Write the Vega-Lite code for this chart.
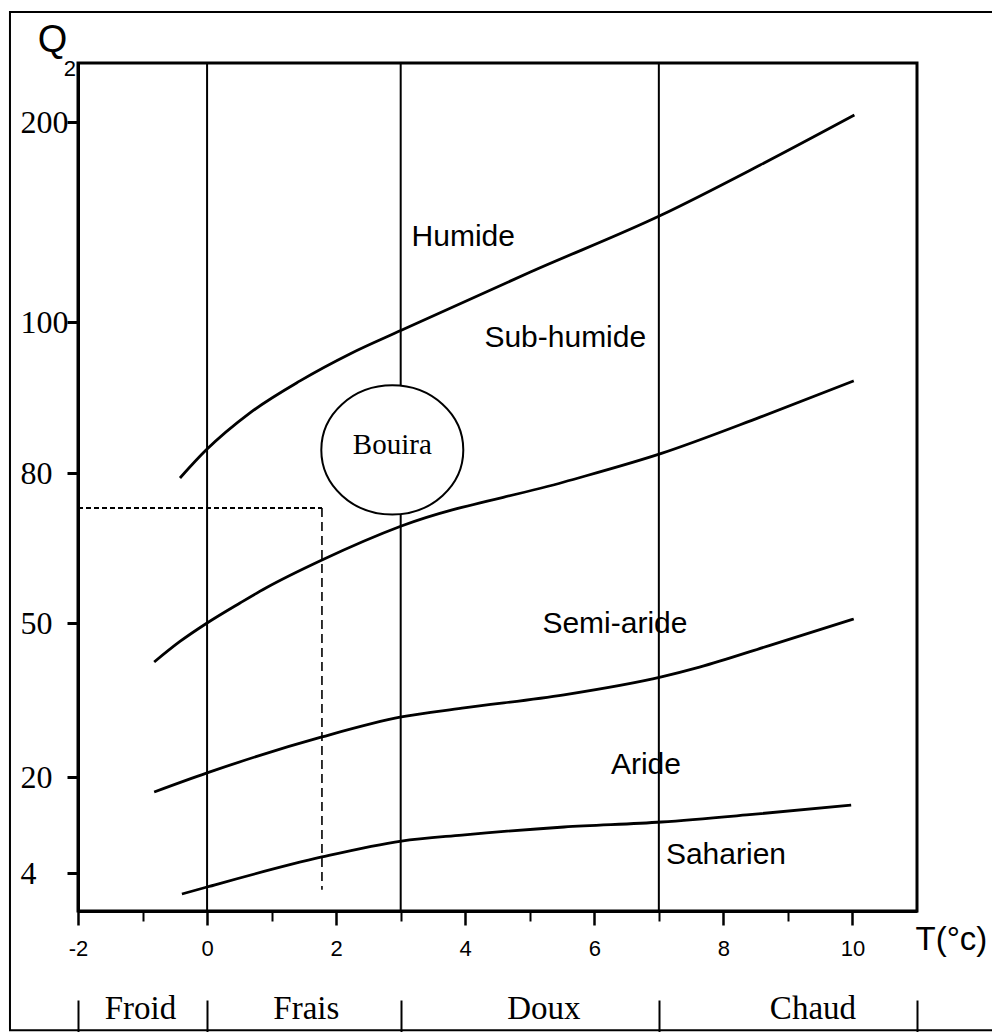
{
  "$schema": "https://vega.github.io/schema/vega-lite/v6.json",
  "autosize": "none",
  "width": 839,
  "height": 848,
  "padding": {"left": 78, "top": 63, "right": 75, "bottom": 121},
  "background": "white",
  "config": {
    "view": {"stroke": "black", "strokeWidth": 3},
    "axis": {"grid": false, "domainColor": "black", "tickColor": "black", "labelColor": "black", "titleColor": "black"}
  },
  "datasets": {
    "zones": [{"T": 0}, {"T": 3}, {"T": 7}],
    "curves": [
      {"curve": "c1", "T": -0.42, "Q": 79.0},
      {"curve": "c1", "T": -0.02, "Q": 83.0},
      {"curve": "c1", "T": 0.67, "Q": 88.0},
      {"curve": "c1", "T": 1.44, "Q": 92.2},
      {"curve": "c1", "T": 2.22, "Q": 95.8},
      {"curve": "c1", "T": 3.01, "Q": 98.9},
      {"curve": "c1", "T": 5.01, "Q": 125},
      {"curve": "c1", "T": 7.04, "Q": 153.5},
      {"curve": "c1", "T": 8.57, "Q": 178.5},
      {"curve": "c1", "T": 10.03, "Q": 203.5},
      {"curve": "c2", "T": -0.82, "Q": 42.4},
      {"curve": "c2", "T": -0.42, "Q": 46.4},
      {"curve": "c2", "T": 0.0, "Q": 50},
      {"curve": "c2", "T": 0.51, "Q": 54.0},
      {"curve": "c2", "T": 0.91, "Q": 57.0},
      {"curve": "c2", "T": 1.78, "Q": 62.6},
      {"curve": "c2", "T": 3.01, "Q": 69.4},
      {"curve": "c2", "T": 5.53, "Q": 78.2},
      {"curve": "c2", "T": 7.04, "Q": 82.6},
      {"curve": "c2", "T": 8.57, "Q": 87.4},
      {"curve": "c2", "T": 10.02, "Q": 92.2},
      {"curve": "c3", "T": -0.82, "Q": 17.5},
      {"curve": "c3", "T": 0.0, "Q": 20.8},
      {"curve": "c3", "T": 1.78, "Q": 27.8},
      {"curve": "c3", "T": 3.01, "Q": 31.7},
      {"curve": "c3", "T": 3.95, "Q": 33.4},
      {"curve": "c3", "T": 5.53, "Q": 36.0},
      {"curve": "c3", "T": 7.04, "Q": 39.5},
      {"curve": "c3", "T": 7.63, "Q": 41.4},
      {"curve": "c3", "T": 8.71, "Q": 45.6},
      {"curve": "c3", "T": 10.02, "Q": 50.8},
      {"curve": "c4", "T": -0.39, "Q": 0.5},
      {"curve": "c4", "T": 0.0, "Q": 1.67},
      {"curve": "c4", "T": 1.78, "Q": 6.67},
      {"curve": "c4", "T": 3.01, "Q": 9.33},
      {"curve": "c4", "T": 3.95, "Q": 10.33},
      {"curve": "c4", "T": 5.53, "Q": 11.67},
      {"curve": "c4", "T": 7.04, "Q": 12.5},
      {"curve": "c4", "T": 8.36, "Q": 13.67},
      {"curve": "c4", "T": 9.98, "Q": 15.33}
    ],
    "dotted": [{"T": -2, "Tend": 1.78, "Q": 73.0}],
    "dashed": [{"T": 1.78, "Q": 73.0, "Qend": 1.2}],
    "bouira": [{"T": 2.87, "Q": 83.05, "label": "Bouira"}],
    "regions": [
      {"T": 3.97, "Q": 142.5, "label": "Humide"},
      {"T": 5.55, "Q": 97.9, "label": "Sub-humide"},
      {"T": 6.32, "Q": 49.8, "label": "Semi-aride"},
      {"T": 6.80, "Q": 22.3, "label": "Aride"},
      {"T": 8.04, "Q": 7.0, "label": "Saharien"}
    ],
    "sub": [{"T": -2.124, "Q": 226.5, "label": "2"}],
    "frame": [{"T": -3.054, "Tend": 12.5, "Q": 255, "Qend": -22.2}]
  },
  "resolve": {"axis": {"x": "independent", "y": "independent"}},
  "layer": [
    {
      "data": {"name": "frame"},
      "mark": {"type": "rect", "fill": null, "fillOpacity": 0, "stroke": "black", "strokeWidth": 2, "clip": false},
      "encoding": {
        "x": {"field": "T", "type": "quantitative", "axis": null, "scale": {"domain": [-2, 11], "nice": false, "zero": false}},
        "x2": {"field": "Tend"},
        "y": {"field": "Q", "type": "quantitative", "axis": null, "scale": {"domain": [-2.33, 4, 20, 50, 80, 100, 200, 229.5], "range": [848, 810, 714, 560, 410, 259, 59, 0], "nice": false, "zero": false}},
        "y2": {"field": "Qend"}
      }
    },
    {
      "data": {"name": "zones"},
      "mark": {"type": "rule", "color": "black", "strokeWidth": 2},
      "encoding": {
        "x": {"field": "T", "type": "quantitative", "scale": {"domain": [-2, 11], "nice": false, "zero": false},
          "axis": {"orient": "bottom", "values": [-2, 0, 2, 4, 6, 8, 10], "tickSize": 14, "tickWidth": 2.5, "domainWidth": 3,
            "labelFont": "Liberation Sans", "labelFontSize": 22, "labelPadding": 13, "labelFlush": false, "labelOverlap": false,
            "labelExpr": "'' + datum.value",
            "title": "T(°c)", "titleFont": "Liberation Sans", "titleFontSize": 33, "titleFontWeight": "normal",
            "titleX": 837, "titleY": 28, "titleAlign": "left", "titleBaseline": "middle", "titleAnchor": null}}
      }
    },
    {
      "data": {"name": "curves"},
      "mark": {"type": "line", "color": "black", "strokeWidth": 2.8, "interpolate": "monotone"},
      "encoding": {
        "x": {"field": "T", "type": "quantitative", "scale": {"domain": [-2, 11], "nice": false, "zero": false},
          "axis": {"orient": "bottom", "values": [-1, 1, 3, 5, 7, 9], "tickSize": 10, "tickWidth": 2, "labels": false, "domain": false, "title": null}},
        "y": {"field": "Q", "type": "quantitative", "scale": {"domain": [-2.33, 4, 20, 50, 80, 100, 200, 229.5], "range": [848, 810, 714, 560, 410, 259, 59, 0], "nice": false, "zero": false},
          "axis": {"orient": "left", "values": [4, 20, 50, 80, 100, 200], "tickSize": 11, "tickWidth": 3, "domainWidth": 3,
            "labelFont": "Liberation Serif", "labelFontSize": 32, "labelAlign": "left", "labelPadding": 47, "labelBaseline": "middle", "labelOverlap": false, "labelFlush": false,
            "title": "Q", "titleFont": "Liberation Sans", "titleFontSize": 38, "titleFontWeight": "normal", "titleAngle": 0,
            "titleX": -26, "titleY": -23, "titleAlign": "center", "titleBaseline": "middle"}},
        "detail": {"field": "curve"}
      }
    },
    {
      "data": {"name": "dotted"},
      "mark": {"type": "rule", "color": "black", "strokeWidth": 2.2, "strokeDash": [5, 3]},
      "encoding": {
        "x": {"field": "T", "type": "quantitative", "scale": {"domain": [-2, 11], "nice": false, "zero": false},
          "axis": {"orient": "bottom", "offset": 89, "values": [-2, 0, 3, 7, 11], "tickSize": 32, "tickWidth": 2, "labels": false, "domain": false, "title": null}},
        "x2": {"field": "Tend"},
        "y": {"field": "Q", "type": "quantitative", "axis": null}
      }
    },
    {
      "data": {"name": "dashed"},
      "mark": {"type": "rule", "color": "black", "strokeWidth": 1.6, "strokeDash": [9, 5]},
      "encoding": {
        "x": {"field": "T", "type": "quantitative", "axis": null},
        "y": {"field": "Q", "type": "quantitative", "axis": null},
        "y2": {"field": "Qend"}
      }
    },
    {
      "data": {"name": "bouira"},
      "mark": {"type": "point", "shape": "M -1 0 A 1 0.91 0 1 1 1 0 A 1 0.91 0 1 1 -1 0 Z", "size": 20164, "fill": "white", "fillOpacity": 1, "stroke": "black", "strokeWidth": 2, "opacity": 1},
      "encoding": {
        "x": {"field": "T", "type": "quantitative", "axis": null},
        "y": {"field": "Q", "type": "quantitative", "axis": null}
      }
    },
    {
      "data": {"name": "bouira"},
      "mark": {"type": "text", "font": "Liberation Serif", "fontSize": 29, "color": "black", "dy": -5},
      "encoding": {
        "x": {"field": "T", "type": "quantitative", "axis": null},
        "y": {"field": "Q", "type": "quantitative", "axis": null},
        "text": {"field": "label"}
      }
    },
    {
      "data": {"name": "regions"},
      "mark": {"type": "text", "font": "Liberation Sans", "fontSize": 30, "color": "black"},
      "encoding": {
        "x": {"field": "T", "type": "quantitative", "scale": {"domain": [-2, 11], "nice": false, "zero": false},
          "axis": {"orient": "bottom", "offset": 97, "values": [-1.04, 1.53, 5.21, 9.38], "ticks": false, "tickSize": 0, "domain": false, "labelPadding": 0, "labelBaseline": "middle",
            "labelFont": "Liberation Serif", "labelFontSize": 33, "labelOverlap": false, "labelFlush": false, "title": null,
            "labelExpr": "datum.value < 0 ? 'Froid' : datum.value < 3 ? 'Frais' : datum.value < 7 ? 'Doux' : 'Chaud'"}},
        "y": {"field": "Q", "type": "quantitative", "axis": null},
        "text": {"field": "label"}
      }
    },
    {
      "data": {"name": "sub"},
      "mark": {"type": "text", "font": "Liberation Sans", "fontSize": 22, "color": "black", "clip": false},
      "encoding": {
        "x": {"field": "T", "type": "quantitative", "axis": null},
        "y": {"field": "Q", "type": "quantitative", "axis": null},
        "text": {"field": "label"}
      }
    }
  ]
}
